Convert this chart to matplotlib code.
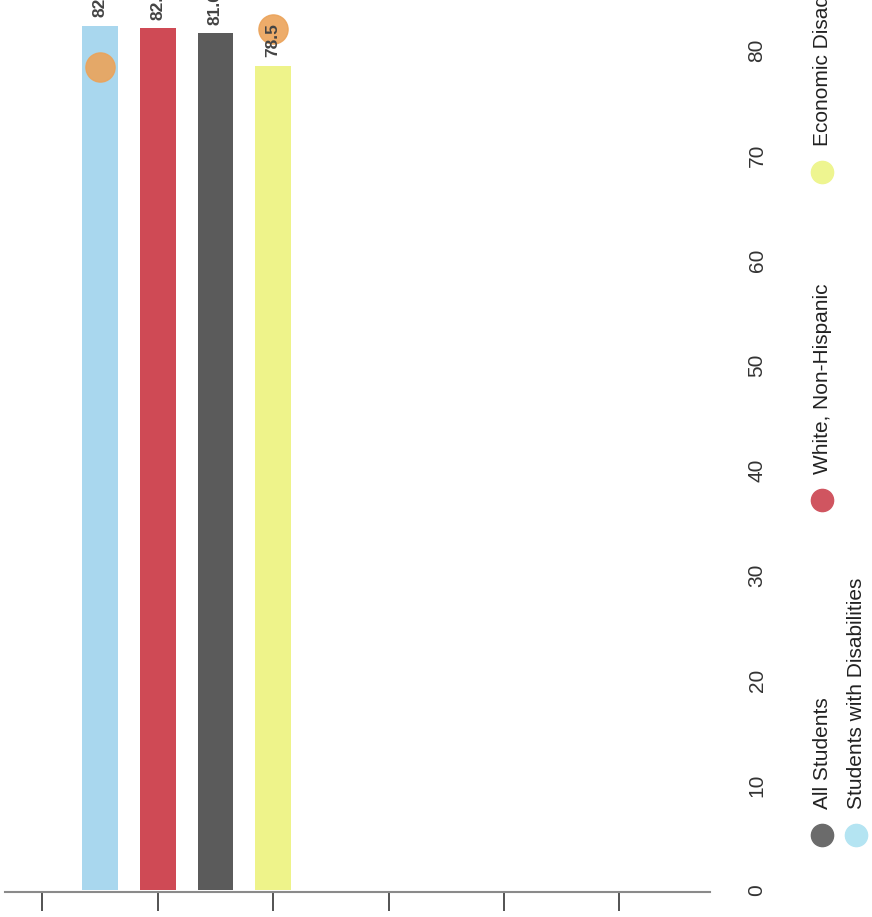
import numpy as np
import matplotlib.pyplot as plt

plt.rcParams['font.family'] = ['Liberation Sans', 'DejaVu Sans']

# bars, in drawing order
groups = ['Students with Disabilities', 'White, Non-Hispanic', 'All Students', 'Economic Disadvantage']
values = [82.3, 82.1, 81.6, 78.5]
colors = ['#a9d7ee', '#cf4a55', '#5b5b5b', '#eef38a']

# orange comparison dots (only on two bars)
dot_values = [78.4, np.nan, np.nan, 82.0]

# legend, as it reads in the picture
legend_names = ['All Students', 'White, Non-Hispanic', 'Economic Disadvantage', 'Students with Disabilities']
legend_colors = ['#6b6b6b', '#d05560', '#eef590', '#b4e4f2']

yticks = [0, 10, 20, 30, 40, 50, 60, 70, 80]
xticks = [-1, 1, 3, 5, 7, 9]

fig = plt.figure(figsize=(8.72, 9.17), dpi=100)
ax = fig.add_axes([5 / 872, 25 / 917, 705 / 872, 892 / 917])

x = np.arange(len(groups))
bars = ax.bar(x, values, width=0.62, color=colors, zorder=2)
ax.plot(x, dot_values, 'o', color='#eba35a', markersize=21, alpha=0.9,
        linestyle='none', zorder=2.5)
ax.bar_label(bars, labels=['%.1f' % v for v in values], padding=6, rotation=90,
             fontsize=12.5, fontweight='bold', color='#444444', zorder=4)

ax.set_xlim(-1.646, 10.57)
ax.set_ylim(-0.19, 84.76)

for s in ['top', 'left', 'right']:
    ax.spines[s].set_visible(False)
ax.spines['bottom'].set_color('#8a8a8a')
ax.spines['bottom'].set_linewidth(1.5)

ax.set_xticks(xticks)
ax.set_xticklabels([])
ax.tick_params(axis='x', direction='out', length=14, width=1.3, color='#444444')

ax.yaxis.tick_right()
ax.set_yticks(yticks)
ax.tick_params(axis='y', length=0, pad=27, labelsize=15, labelrotation=90,
               labelcolor='#333333')
plt.setp(ax.get_yticklabels(), va='center')

# rotated legend drawn by hand
legend_pos = [(822, 835), (822, 500), (822, 172), (856, 835)]
for name, col, (px, py) in zip(legend_names, legend_colors, legend_pos):
    fx, fy = px / 872, 1 - py / 917
    fig.lines.append(plt.Line2D([fx], [fy], marker='o', markersize=16, color=col,
                                linestyle='none', transform=fig.transFigure))
    fig.text(fx, fy + 26 / 917, name, rotation=90, ha='center', va='bottom',
             fontsize=15, color='#222222')

fig.savefig('out.png', dpi=100)
